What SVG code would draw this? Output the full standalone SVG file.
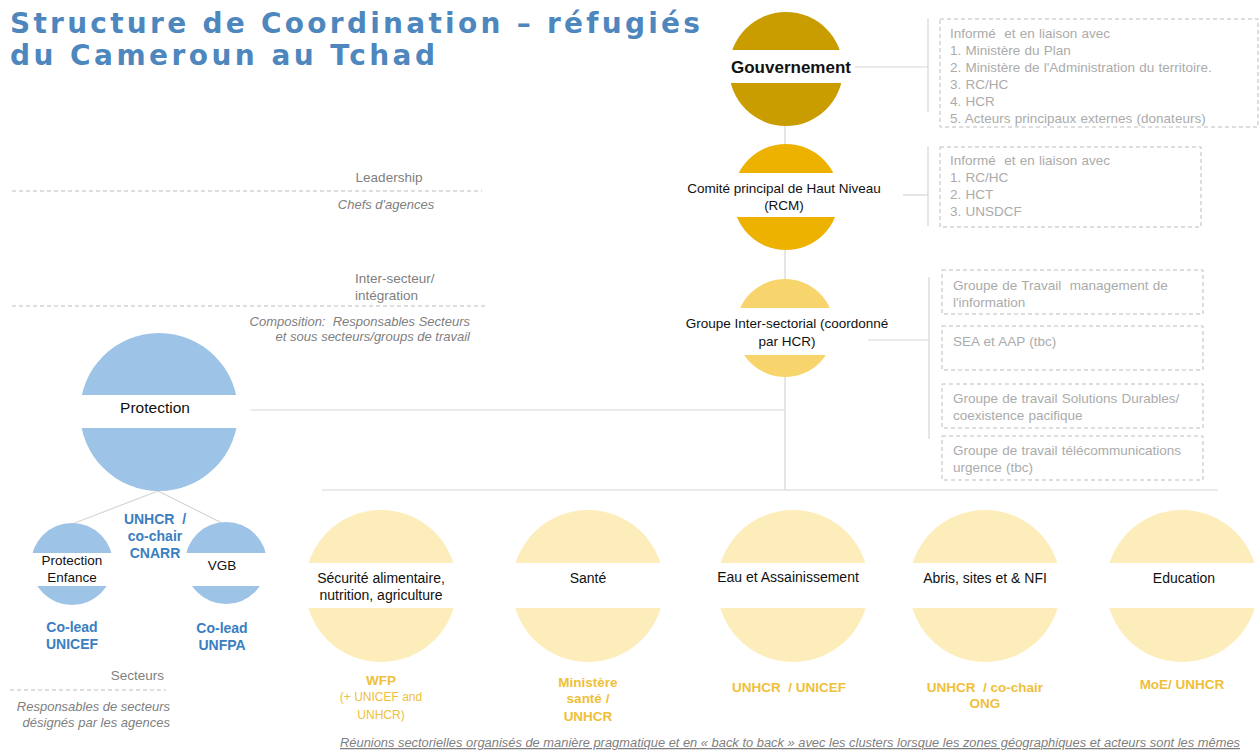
<svg xmlns="http://www.w3.org/2000/svg" width="1260" height="750" viewBox="0 0 1260 750">
<defs>
<style>
text{font-family:"Liberation Sans",Arial,sans-serif;}
.title{font-family:"DejaVu Sans","Liberation Sans",sans-serif;font-weight:bold;font-size:28px;fill:#4E86BE;}
.conn{stroke:#D6D6D6;stroke-width:1.2;fill:none;}
.dash{stroke:#BDBDBD;stroke-width:1;stroke-dasharray:4 3;fill:none;}
.box{stroke:#BDBDBD;stroke-width:1;stroke-dasharray:4 3;fill:#fff;}
.band{fill:#fff;}
.boxt{font-size:13.5px;fill:#ABABAB;word-spacing:0.5px;}
.lbl{font-size:13.5px;fill:#808080;}
.lbli{font-size:13px;fill:#808080;font-style:italic;}
.node{font-size:13.5px;fill:#111;text-anchor:middle;}
.nodeb{font-size:14px;fill:#111;text-anchor:middle;}
.blue{font-size:14px;font-weight:bold;fill:#3A7EBF;text-anchor:middle;}
.gold{font-size:13.5px;font-weight:bold;fill:#EFC03A;text-anchor:middle;}
.goldr{font-size:12px;fill:#EFC03A;text-anchor:middle;}
.c-gov{fill:#C99C00;}
.c-rcm{fill:#EDB200;}
.c-grp{fill:#F7D56C;}
.c-sec{fill:#FDEDBB;}
.c-pro{fill:#9DC3E6;}
</style>
</defs>
<rect width="1260" height="750" fill="#fff"/>

<g id="title">
<text class="title" x="10" y="33" textLength="690" lengthAdjust="spacing">Structure de Coordination – réfugiés</text>
<text class="title" x="10" y="65" textLength="425" lengthAdjust="spacing">du Cameroun au Tchad</text>
</g>

<g id="levels">
<text class="lbl" x="389" y="182" text-anchor="middle">Leadership</text>
<line class="dash" x1="12" y1="191" x2="482" y2="191"/>
<text class="lbli" x="386" y="209" text-anchor="middle">Chefs d'agences</text>
<text class="lbl" x="355" y="283">Inter-secteur/</text>
<text class="lbl" x="355" y="300">intégration</text>
<line class="dash" x1="12" y1="306" x2="486" y2="306"/>
<text class="lbli" x="470" y="326" text-anchor="end">Composition:&#160; Responsables Secteurs</text>
<text class="lbli" x="470" y="341" text-anchor="end">et sous secteurs/groups de travail</text>
<text class="lbl" x="164" y="680" text-anchor="end">Secteurs</text>
<line class="dash" x1="10" y1="690" x2="166" y2="690"/>
<text class="lbli" x="170" y="711" text-anchor="end">Responsables de secteurs</text>
<text class="lbli" x="170" y="727" text-anchor="end">désignés par les agences</text>
</g>

<g id="connectors">
<line class="conn" x1="785" y1="70" x2="785" y2="490"/>
<line class="conn" x1="251" y1="410" x2="785" y2="410"/>
<line class="conn" x1="322" y1="490" x2="1218" y2="490"/>
<line class="conn" x1="855" y1="67" x2="928" y2="67"/>
<line class="conn" x1="928" y1="18" x2="928" y2="112"/>
<line class="conn" x1="903" y1="195" x2="928" y2="195"/>
<line class="conn" x1="928" y1="146" x2="928" y2="226"/>
<line class="conn" x1="868" y1="340" x2="929" y2="340"/>
<line class="conn" x1="929" y1="277" x2="929" y2="439"/>
<line class="conn" x1="158" y1="491" x2="72" y2="524"/>
<line class="conn" x1="158" y1="491" x2="222" y2="523"/>
</g>

<g id="gouvernement">
<circle class="c-gov" cx="786" cy="69" r="57"/>
<rect class="band" x="725" y="50" width="125" height="33"/>
<text x="791" y="73" text-anchor="middle" font-size="17" font-weight="bold" fill="#111">Gouvernement</text>
</g>

<g id="rcm">
<circle class="c-rcm" cx="786" cy="197" r="53"/>
<rect class="band" x="730" y="173" width="112" height="44"/>
<text class="node" x="784" y="192.5">Comité principal de Haut Niveau</text>
<text class="node" x="784" y="209.5">(RCM)</text>
</g>

<g id="intersectoriel">
<circle class="c-grp" cx="785" cy="328" r="49"/>
<rect class="band" x="733" y="308" width="104" height="47"/>
<text class="node" x="787" y="327.5">Groupe Inter-sectorial (coordonné</text>
<text class="node" x="787" y="345.5">par HCR)</text>
</g>

<g id="box-gouv">
<rect class="box" x="940" y="19" width="318" height="108"/>
<text class="boxt" x="950" y="38">Informé&#160; et en liaison avec</text>
<text class="boxt" x="950" y="55">1. Ministère du Plan</text>
<text class="boxt" x="950" y="72">2. Ministère de l'Administration du territoire.</text>
<text class="boxt" x="950" y="89">3. RC/HC</text>
<text class="boxt" x="950" y="106">4. HCR</text>
<text class="boxt" x="950" y="123">5. Acteurs principaux externes (donateurs)</text>
</g>

<g id="box-rcm">
<rect class="box" x="940" y="147" width="261" height="80"/>
<text class="boxt" x="950" y="165">Informé&#160; et en liaison avec</text>
<text class="boxt" x="950" y="182">1. RC/HC</text>
<text class="boxt" x="950" y="198.5">2. HCT</text>
<text class="boxt" x="950" y="215.5">3. UNSDCF</text>
</g>

<g id="box-gtim">
<rect class="box" x="942" y="270" width="261" height="44"/>
<text class="boxt" x="953" y="290">Groupe de Travail&#160; management de</text>
<text class="boxt" x="953" y="307">l'information</text>
</g>
<g id="box-sea">
<rect class="box" x="942" y="326" width="261" height="44"/>
<text class="boxt" x="953" y="346">SEA et AAP (tbc)</text>
</g>
<g id="box-sd">
<rect class="box" x="942" y="384" width="261" height="44"/>
<text class="boxt" x="953" y="403">Groupe de travail Solutions Durables/</text>
<text class="boxt" x="953" y="420">coexistence pacifique</text>
</g>
<g id="box-tel">
<rect class="box" x="942" y="436" width="261" height="44"/>
<text class="boxt" x="953" y="455">Groupe de travail télécommunications</text>
<text class="boxt" x="953" y="472">urgence (tbc)</text>
</g>

<g id="protection">
<circle class="c-pro" cx="159" cy="412" r="79"/>
<rect class="band" x="78" y="395" width="164" height="33"/>
<text x="155" y="413" text-anchor="middle" font-size="15.5" fill="#111">Protection</text>
<text class="blue" x="155" y="524">UNHCR&#160; /</text>
<text class="blue" x="155" y="541">co-chair</text>
<text class="blue" x="155" y="558">CNARR</text>
</g>

<g id="protection-enfance">
<circle class="c-pro" cx="72" cy="564" r="41"/>
<rect class="band" x="29" y="553" width="86" height="33"/>
<text class="node" x="72" y="565">Protection</text>
<text class="node" x="72" y="582">Enfance</text>
<text class="blue" x="72" y="632">Co-lead</text>
<text class="blue" x="72" y="649">UNICEF</text>
</g>

<g id="vgb">
<circle class="c-pro" cx="226" cy="563" r="41"/>
<rect class="band" x="183" y="553" width="86" height="33"/>
<text class="node" x="222" y="570">VGB</text>
<text class="blue" x="222" y="633">Co-lead</text>
<text class="blue" x="222" y="650">UNFPA</text>
</g>

<g id="securite">
<circle class="c-sec" cx="381" cy="586" r="76"/>
<rect class="band" x="302" y="563" width="158" height="45"/>
<text class="nodeb" x="381" y="583">Sécurité alimentaire,</text>
<text class="nodeb" x="381" y="600">nutrition, agriculture</text>
<text class="gold" x="381" y="685">WFP</text>
<text class="goldr" x="381" y="701">(+ UNICEF and</text>
<text class="goldr" x="381" y="719">UNHCR)</text>
</g>

<g id="sante">
<circle class="c-sec" cx="588" cy="586" r="76"/>
<rect class="band" x="509" y="563" width="158" height="45"/>
<text class="nodeb" x="588" y="583">Santé</text>
<text class="gold" x="588" y="686.5">Ministère</text>
<text class="gold" x="588" y="703">santé /</text>
<text class="gold" x="588" y="720.5">UNHCR</text>
</g>

<g id="eau">
<circle class="c-sec" cx="793" cy="586" r="76"/>
<rect class="band" x="714" y="563" width="158" height="45"/>
<text class="nodeb" x="788" y="582">Eau et Assainissement</text>
<text class="gold" x="789" y="691.5">UNHCR&#160; / UNICEF</text>
</g>

<g id="abris">
<circle class="c-sec" cx="985" cy="586" r="76"/>
<rect class="band" x="906" y="563" width="158" height="45"/>
<text class="nodeb" x="985" y="583">Abris, sites et &amp; NFI</text>
<text class="gold" x="985" y="691.5">UNHCR&#160; / co-chair</text>
<text class="gold" x="985" y="708">ONG</text>
</g>

<g id="education">
<circle class="c-sec" cx="1182" cy="586" r="76"/>
<rect class="band" x="1103" y="563" width="158" height="45"/>
<text class="nodeb" x="1184" y="583">Education</text>
<text class="gold" x="1182" y="688.5">MoE/ UNHCR</text>
</g>

<g id="footer">
<text x="340" y="747" font-size="12.5" font-style="italic" fill="#7F7F7F" text-decoration="underline" textLength="900" lengthAdjust="spacingAndGlyphs">Réunions sectorielles organisés de manière pragmatique et en « back to back » avec les clusters lorsque les zones géographiques et acteurs sont les mêmes</text>
</g>
</svg>
